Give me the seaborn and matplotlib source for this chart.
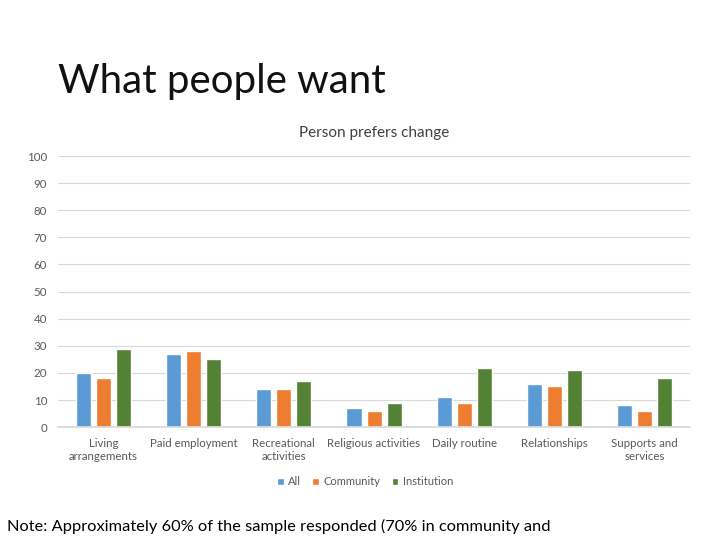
import matplotlib
matplotlib.use("Agg")
import matplotlib.pyplot as plt
import seaborn as sns
import pandas as pd

categories = ["Living\narrangements", "Paid employment", "Recreational\nactivities",
              "Religious activities", "Daily routine", "Relationships", "Supports and\nservices"]
series_names = ["All", "Community", "Institution"]
all_vals = [20, 27, 14, 7, 11, 16, 8]
community_vals = [18, 28, 14, 6, 9, 15, 6]
institution_vals = [29, 25, 17, 9, 22, 21, 18]
colors = ["#5B9BD5", "#ED7D31", "#548235"]

rows = []
for name, vals in zip(series_names, [all_vals, community_vals, institution_vals]):
    for c, v in zip(categories, vals):
        rows.append({"cat": c, "series": name, "val": v})
df = pd.DataFrame(rows)

sns.set_theme(style="white")
plt.rcParams["font.family"] = ["Lato", "DejaVu Sans"]

fig = plt.figure(figsize=(7.2, 5.4), dpi=100)
ax = fig.add_axes([0.081, 0.209, 0.877, 0.502])
sns.barplot(data=df, x="cat", y="val", hue="series", order=categories,
            hue_order=series_names, palette=colors, width=0.667, gap=0.25,
            saturation=1, ax=ax, legend=True)

ax.set_ylim(0, 100)
ax.set_yticks(range(0, 101, 10))
ax.yaxis.grid(True, color="#D9D9D9", linewidth=0.8)
ax.set_axisbelow(True)
for s in ["top", "right", "left"]:
    ax.spines[s].set_visible(False)
ax.spines["bottom"].set_color("#D9D9D9")
ax.tick_params(axis="both", length=0, labelsize=8.3, colors="#595959", pad=8)
ax.set_xlabel("")
ax.set_ylabel("")
ax.set_title("Person prefers change", fontsize=11, color="#404040", pad=14)

leg = ax.legend(loc="upper center", bbox_to_anchor=(0.486, -0.145), ncol=3,
                frameon=False, fontsize=8, handlelength=0.6, handleheight=0.6,
                handletextpad=0.4, columnspacing=1.0)
for t in leg.get_texts():
    t.set_color("#595959")

fig.text(0.081, 0.828, "What people want", fontsize=29, color="#111111",
         fontweight="normal", ha="left", va="baseline")
fig.text(0.01, 0.017, "Note: Approximately 60% of the sample responded (70% in community and",
         fontsize=11.8, color="#000000", ha="left", va="baseline")

fig.savefig("out.png", dpi=100)
